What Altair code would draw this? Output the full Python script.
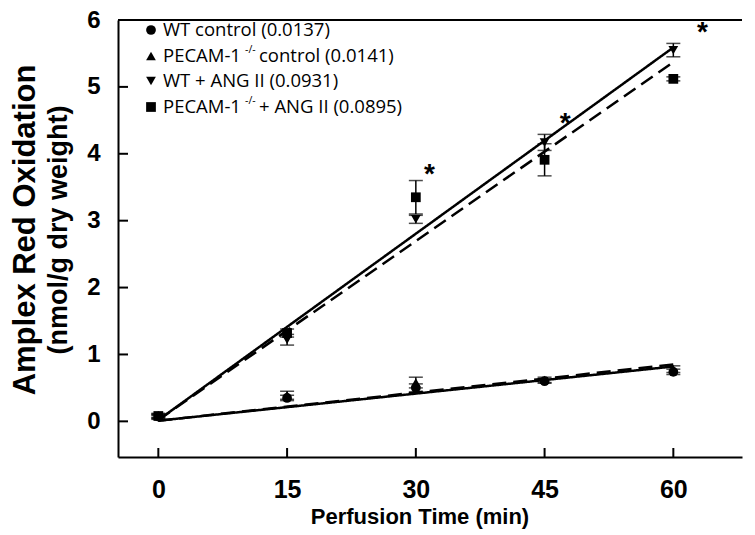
import altair as alt
import pandas as pd

# ---- data ----
times = [0, 15, 30, 45, 60]
series_names = ["WT control", "PECAM control", "WT + ANG II", "PECAM + ANG II"]
series_shapes = ["circle", "triangle-up", "triangle-down", "square"]

wt_ctrl = [0.07, 0.35, 0.50, 0.60, 0.74]
wt_ctrl_err = [0.03, 0.04, 0.06, 0.03, 0.04]
pe_ctrl = [0.09, 0.39, 0.58, 0.62, 0.78]
pe_ctrl_err = [0.03, 0.06, 0.08, 0.04, 0.05]
wt_ang = [0.06, 1.22, 3.02, 4.17, 5.55]
wt_ang_err = [0.03, 0.08, 0.06, 0.12, 0.10]
pe_ang = [0.08, 1.32, 3.35, 3.91, 5.12]
pe_ang_err = [0.03, 0.06, 0.25, 0.24, 0.03]

# regression line end points (t = 0 and t = 60)
fit_t = [0, 60]
fit_wt_ctrl = [0.01, 0.82]
fit_pe_ctrl = [0.01, 0.85]
fit_wt_ang = [0.02, 5.59]
fit_pe_ang = [0.02, 5.37]

# significance asterisks
star_t = [31.6, 47.4, 63.4]
star_y = [3.68, 4.45, 5.80]

x_ticks = [0, 15, 30, 45, 60]
y_ticks = [0, 1, 2, 3, 4, 5, 6]

W, H = 624, 437
XDOM = [-4.7, 68]
YDOM = [-0.533, 6]

rows = []
for name, vals, errs in [
    ("WT control", wt_ctrl, wt_ctrl_err),
    ("PECAM control", pe_ctrl, pe_ctrl_err),
    ("WT + ANG II", wt_ang, wt_ang_err),
    ("PECAM + ANG II", pe_ang, pe_ang_err),
]:
    for t, v, e in zip(times, vals, errs):
        rows.append({"series": name, "t": t, "v": v, "lo": v - e, "hi": v + e})
pts = pd.DataFrame(rows)

fit_rows = []
for name, vals, dash in [
    ("WT control", fit_wt_ctrl, "solid"),
    ("PECAM control", fit_pe_ctrl, "dash"),
    ("WT + ANG II", fit_wt_ang, "solid"),
    ("PECAM + ANG II", fit_pe_ang, "dash"),
]:
    for t, v in zip(fit_t, vals):
        fit_rows.append({"series": name, "t": t, "v": v, "style": dash})
fits = pd.DataFrame(fit_rows)

xs = alt.Scale(domain=XDOM, nice=False, zero=False)
ys = alt.Scale(domain=YDOM, nice=False, zero=False)

AX = "Liberation Sans"

x_enc = alt.X("t:Q", scale=xs, axis=alt.Axis(
    values=x_ticks, ticks=False, domainColor="black", domainWidth=2, format="d",
    labelFont=AX, labelFontWeight="bold", labelFontSize=25, labelColor="black",
    labelPadding=20, grid=False, title=None))
y_enc = alt.Y("v:Q", scale=ys, axis=alt.Axis(
    values=y_ticks, ticks=False, domainColor="black", domainWidth=2, format="d",
    labelFont=AX, labelFontWeight="bold", labelFontSize=24, labelColor="black",
    labelPadding=18, grid=False, title=None))

shape_scale = alt.Scale(domain=series_names, range=series_shapes)

base = alt.Chart(pts)

err_rule = base.mark_rule(color="black", strokeWidth=1.5).encode(
    x=alt.X("t:Q", scale=xs), y=alt.Y("lo:Q", scale=ys), y2="hi:Q")
cap_lo = base.mark_tick(color="black", orient="horizontal", size=14, thickness=1.5).encode(
    x=alt.X("t:Q", scale=xs), y=alt.Y("lo:Q", scale=ys))
cap_hi = base.mark_tick(color="black", orient="horizontal", size=14, thickness=1.5).encode(
    x=alt.X("t:Q", scale=xs), y=alt.Y("hi:Q", scale=ys))

points = base.mark_point(filled=True, color="black", opacity=1, size=95).encode(
    x=x_enc, y=y_enc,
    shape=alt.Shape("series:N", scale=shape_scale, legend=None))

fit_lines = alt.Chart(fits).mark_line(color="black", strokeWidth=2.5).encode(
    x=alt.X("t:Q", scale=xs), y=alt.Y("v:Q", scale=ys),
    detail="series:N",
    strokeDash=alt.StrokeDash("style:N", scale=alt.Scale(
        domain=["solid", "dash"], range=[[1, 0], [14, 7]]), legend=None))

stars = alt.Chart(pd.DataFrame({"t": star_t, "v": star_y})).mark_text(
    text="*", font=AX, fontWeight="bold", fontSize=28, color="black", baseline="middle"
).encode(x=alt.X("t:Q", scale=xs), y=alt.Y("v:Q", scale=ys))

# inward tick marks
xt = alt.Chart(pd.DataFrame({"t": x_ticks})).mark_rule(color="black", strokeWidth=2).encode(
    x=alt.X("t:Q", scale=xs), y=alt.value(H), y2=alt.value(H - 9))
yt = alt.Chart(pd.DataFrame({"v": y_ticks})).mark_rule(color="black", strokeWidth=2).encode(
    y=alt.Y("v:Q", scale=ys), x=alt.value(0), x2=alt.value(10))

one = pd.DataFrame({"a": [0]})
top_border = alt.Chart(one).mark_rule(color="black", strokeWidth=2).encode(
    x=alt.value(0), x2=alt.value(W), y=alt.value(0))


def txt(s, x, y, size, weight="normal", font=AX, angle=0, align="left"):
    return alt.Chart(one).mark_text(
        text=s, font=font, fontSize=size, fontWeight=weight, color="black",
        angle=angle, align=align, baseline="middle"
    ).encode(x=alt.value(x), y=alt.value(y))


LF = "Open Sans"
LS = 18.5
leg_y = [10, 36, 61, 87]
legend_layers = []
for shp, yy in zip(series_shapes, leg_y):
    legend_layers.append(alt.Chart(one).mark_point(
        shape=shp, filled=True, color="black", opacity=1, size=95
    ).encode(x=alt.value(33), y=alt.value(yy)))
legend_layers += [
    txt("WT control (0.0137)", 45, leg_y[0], LS, font=LF),
    txt("PECAM-1", 45, leg_y[1], LS, font=LF),
    txt("-/-", 127, leg_y[1] - 6, 10.5, font=LF),
    txt("control (0.0141)", 141, leg_y[1], LS, font=LF),
    txt("WT + ANG II (0.0931)", 45, leg_y[2], LS, font=LF),
    txt("PECAM-1", 45, leg_y[3], LS, font=LF),
    txt("-/-", 127, leg_y[3] - 6, 10.5, font=LF),
    txt("+ ANG II (0.0895)", 141, leg_y[3], LS, font=LF),
]

titles = [
    txt("Amplex Red Oxidation", -92, 210, 31, weight="bold", angle=270, align="center"),
    txt("(nmol/g dry weight)", -59, 210, 27, weight="bold", angle=270, align="center"),
    txt("Perfusion Time (min)", 302, 497, 22, weight="bold", align="center"),
]

chart = alt.layer(
    fit_lines, err_rule, cap_lo, cap_hi, points, stars, xt, yt, top_border,
    *legend_layers, *titles
).properties(
    width=W, height=H,
    autosize=alt.AutoSizeParams(type="none"),
    padding={"left": 110, "top": 12, "right": 5, "bottom": 75},
).configure_view(stroke=None)

chart.save("out.html", embed_options={"renderer": "svg", "actions": False})
